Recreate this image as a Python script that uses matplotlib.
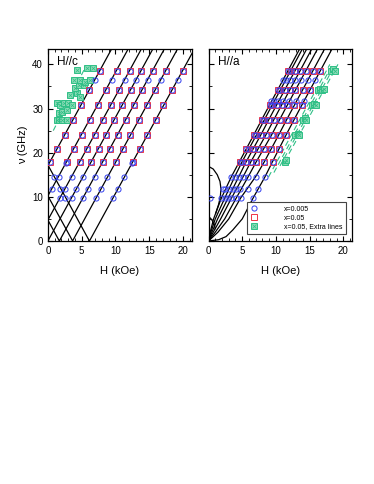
import numpy as np
import matplotlib
matplotlib.use("Agg")
import matplotlib.pyplot as plt
from matplotlib.lines import Line2D
from matplotlib.legend_handler import HandlerTuple
from matplotlib.ticker import MultipleLocator

plt.rcParams['font.family'] = ['Liberation Sans', 'DejaVu Sans']

# ---- H//c panel ----
# resonance lines  nu = slope * |H - h0|
slope_c = 2.8
h0_c = [-6.1, -3.65, -1.7, 0.0, 1.7, 3.65, 6.15]

# x=0.005 (blue circles), frequency -> fields
c_blue = {
    9.7: [1.75, 2.6, 3.5, 5.15, 7.1, 9.6],
    11.8: [0.6, 1.85, 2.5, 4.2, 5.9, 7.8, 10.3],
    14.5: [0.85, 1.6, 3.5, 5.2, 6.9, 8.8, 11.3],
    17.6: [2.7, 12.4],
    18.0: [0.35, 2.9, 4.75, 6.45, 8.15, 10.05, 12.55],
    20.9: [1.4, 3.9, 5.8, 7.5, 9.15, 11.05, 13.6],
    24.0: [2.5, 5.0, 6.9, 8.6, 10.3, 12.2, 14.7],
    27.5: [3.7, 6.25, 8.15, 9.85, 11.5, 13.45, 15.95],
    30.7: [4.9, 7.4, 9.3, 11.0, 12.7, 14.6, 17.1],
    34.2: [6.15, 8.65, 10.55, 12.25, 13.95, 15.85, 18.35],
    36.5: [7.0, 9.5, 11.4, 13.1, 14.8, 16.7, 19.2],
    38.6: [7.75, 10.25, 12.15, 13.85, 15.55, 17.45, 19.95],
}
# x=0.05 (red squares)
c_red = {
    18.0: [0.35, 2.9, 4.75, 6.45, 8.15, 10.05, 12.55],
    20.9: [1.4, 3.9, 5.8, 7.5, 9.15, 11.05, 13.6],
    24.0: [2.5, 5.0, 6.9, 8.6, 10.3, 12.2, 14.7],
    27.5: [3.7, 6.25, 8.15, 9.85, 11.5, 13.45, 15.95],
    30.7: [4.9, 7.4, 9.3, 11.0, 12.7, 14.6, 17.1],
    34.2: [6.15, 8.65, 10.55, 12.25, 13.95, 15.85, 18.35],
    38.6: [7.75, 10.25, 12.15, 13.85, 15.55, 17.45, 19.95],
}
# x=0.05 extra lines (green)
c_green_H = [1.3, 1.7, 2.1, 2.8, 1.6, 2.1, 2.8, 1.35, 1.85, 2.35, 3.05, 3.55,
             3.3, 4.3, 4.8, 4.05, 4.55, 5.3, 3.9, 4.8, 5.55, 6.3,
             4.3, 5.8, 6.7]
c_green_nu = [27.4, 27.4, 27.4, 27.4, 28.9, 29.3, 29.7, 31.2, 30.8, 31.2, 31.2, 30.8,
              33.1, 33.5, 32.7, 34.6, 35.4, 35.4, 36.5, 36.5, 36.1, 36.5,
              38.8, 39.2, 39.2]
c_dash_H = [0.8, 5.6]
c_dash_nu = [25.0, 39.5]

# ---- H//a panel ----
a_nodes = [0, 2, 5, 9.7, 14.6, 18, 24, 27.5, 30.8, 34.2, 38.6, 45]
a_curves = [
    [0, 0.25, 0.75, 1.9, 3.4, 4.6, 6.7, 7.9, 9.05, 10.25, 11.8, 14.05],
    [0, 0.35, 1.0, 2.4, 3.9, 5.0, 7.1, 8.3, 9.45, 10.65, 12.2, 14.45],
    [0, 0.5, 1.35, 2.9, 4.5, 5.6, 7.75, 8.95, 10.1, 11.3, 12.85, 15.1],
    [0, 0.7, 1.8, 3.4, 5.15, 6.3, 8.5, 9.7, 10.85, 12.05, 13.6, 15.85],
    [0, 1.0, 2.4, 4.1, 5.9, 7.1, 9.35, 10.55, 11.7, 12.9, 14.45, 16.7],
    [0, 1.4, 3.0, 4.75, 7.0, 8.3, 10.4, 11.6, 12.75, 13.95, 15.5, 17.75],
]
a_last_nu = [0, 0.3, 1.0, 2.5, 5.0, 9.7, 14.6, 18, 24, 27.5, 30.8, 34.2, 38.6, 45]
a_last_H = [0, 1.5, 2.6, 3.6, 5.0, 6.6, 8.4, 9.5, 11.5, 12.7, 13.85, 15.05, 16.6, 18.85]
arc_H = [0, 0.7, 1.3, 1.7, 1.85, 1.75, 1.5, 1.2, 1.07]
arc_nu = [16.9, 16.3, 15.0, 13.5, 11.8, 10.0, 8.3, 6.9, 6.3]
low_H = [0, 0.45, 0.85, 1.0]
low_nu = [5.6, 4.9, 3.8, 2.8]

a_blue = {
    9.7: [0.25, 1.9, 2.4, 2.9, 3.4, 4.1, 4.75, 6.6],
    11.8: [2.2, 2.5, 3.1, 3.6, 4.1, 4.7, 5.8, 7.4],
    14.6: [3.4, 3.9, 4.5, 5.15, 5.9, 7.0, 8.4],
    18.0: [4.6, 5.0, 5.6, 6.3, 7.1, 8.3, 9.5],
    20.9: [5.6, 6.0, 6.6, 7.3, 8.2, 9.3, 10.4],
    24.0: [6.7, 7.1, 7.75, 8.5, 9.35, 10.4, 11.5],
    27.5: [7.9, 8.3, 8.95, 9.7, 10.55, 11.6, 12.7],
    30.8: [9.05, 9.45, 10.1, 10.85, 11.7, 12.75, 13.85],
    31.6: [9.3, 9.7, 10.35, 11.1, 11.95, 13.0, 14.1],
    34.2: [10.25, 10.65, 11.3, 12.05, 12.9, 13.95, 15.05],
    36.5: [11.05, 11.45, 12.1, 12.85, 13.7, 14.75, 15.85],
    38.6: [11.8, 12.2, 12.85, 13.6, 14.45, 15.5, 16.6],
}
a_red = {
    18.0: [4.6, 5.0, 5.6, 6.3, 7.1, 8.3, 9.5],
    20.9: [5.6, 6.0, 6.6, 7.3, 8.2, 9.3, 10.4],
    24.0: [6.7, 7.1, 7.75, 8.5, 9.35, 10.4, 11.5],
    27.5: [7.9, 8.3, 8.95, 9.7, 10.55, 11.6, 12.7],
    30.8: [9.05, 9.45, 10.1, 10.85, 11.7, 12.75, 13.85],
    34.2: [10.25, 10.65, 11.3, 12.05, 12.9, 13.95, 15.05],
    38.6: [11.8, 12.2, 12.85, 13.6, 14.45, 15.5, 16.6],
}
a_green_H = [11.3, 11.5, 12.9, 13.2, 13.4, 14.0, 14.3, 14.5, 15.3, 15.6, 15.9,
             16.3, 16.6, 16.9, 17.2, 18.1, 18.4, 18.7]
a_green_nu = [18.0, 18.3, 24.0, 24.3, 24.0, 27.5, 27.8, 27.5, 30.8, 31.1, 30.8,
              34.2, 34.5, 34.2, 34.4, 38.6, 38.9, 38.6]
a_dash_H = [[8.9, 18.0], [9.7, 18.4], [10.6, 18.8], [11.3, 19.2]]
a_dash_nu = [[14.5, 40.0], [15.5, 40.0], [17.0, 40.0], [18.0, 40.0]]

blue = '#3340f0'
red = '#ee3344'
green = '#2fbf86'
green_fill = '#8fdcb8'

fig = plt.figure(figsize=(3.74, 4.84), dpi=100)
ax1 = fig.add_axes([0.128, 0.502, 0.385, 0.397])
ax2 = fig.add_axes([0.5575, 0.502, 0.384, 0.397])

circ = dict(linestyle='none', markersize=3.7, markeredgewidth=0.7)
sq = dict(linestyle='none', markersize=4.4, markeredgewidth=0.7)


def put_rows(ax, rows, marker, color, style, z):
    for nu, hs in rows.items():
        ax.plot(hs, [nu] * len(hs), marker=marker, markerfacecolor='none',
                markeredgecolor=color, zorder=z, **style)


def put_green(ax, hs, nus):
    ax.plot(hs, nus, marker='s', markerfacecolor=green_fill, markeredgecolor=green,
            zorder=3, linestyle='none', markersize=3.8, markeredgewidth=0.7)
    ax.plot(hs, nus, marker='x', color=green, linestyle='none', markersize=2.4,
            markeredgewidth=0.5, zorder=3)


# left panel
H = np.linspace(0, 22, 500)
for h0 in h0_c:
    ax1.plot(H, slope_c * np.abs(H - h0), color='black', lw=0.9, zorder=2)
ax1.plot(c_dash_H, c_dash_nu, color=green, lw=0.8, ls=(0, (5, 3)), zorder=2)
put_green(ax1, c_green_H, c_green_nu)
put_rows(ax1, c_red, 's', red, sq, 4)
put_rows(ax1, c_blue, 'o', blue, circ, 5)

# right panel
for c in a_curves:
    ax2.plot(c, a_nodes, color='black', lw=0.9, zorder=2)
ax2.plot(a_last_H, a_last_nu, color='black', lw=0.9, zorder=2)
ax2.plot(arc_H, arc_nu, color='black', lw=0.9, zorder=2)
ax2.plot(low_H, low_nu, color='black', lw=0.9, zorder=2)
for hs, nus in zip(a_dash_H, a_dash_nu):
    ax2.plot(hs, nus, color=green, lw=0.8, ls=(0, (5, 3)), zorder=2)
put_green(ax2, a_green_H, a_green_nu)
put_rows(ax2, a_red, 's', red, sq, 4)
put_rows(ax2, a_blue, 'o', blue, circ, 5)

for ax in (ax1, ax2):
    ax.set_xlim(0, 21.3)
    ax.set_ylim(0, 43.5)
    ax.xaxis.set_major_locator(MultipleLocator(5))
    ax.xaxis.set_minor_locator(MultipleLocator(1))
    ax.yaxis.set_major_locator(MultipleLocator(10))
    ax.yaxis.set_minor_locator(MultipleLocator(5))
    ax.tick_params(which='both', direction='in', top=True, right=True, labelsize=7)
    ax.tick_params(which='major', length=3.5, width=0.8)
    ax.tick_params(which='minor', length=2, width=0.6)
    for s in ax.spines.values():
        s.set_linewidth(0.9)
    ax.set_xlabel('H (kOe)', fontsize=8, labelpad=7)

ax1.set_ylabel('ν (GHz)', fontsize=8, labelpad=3)
ax2.tick_params(labelleft=False)
ax1.text(0.06, 0.965, 'H//c', transform=ax1.transAxes, va='top', fontsize=8.5)
ax2.text(0.066, 0.965, 'H//a', transform=ax2.transAxes, va='top', fontsize=8.5)

h_blue = Line2D([], [], marker='o', color=blue, mfc='none', **circ)
h_red = Line2D([], [], marker='s', color=red, mfc='none', **sq)
h_g1 = Line2D([], [], marker='s', mfc=green_fill, mec=green, linestyle='none',
              markersize=3.8, markeredgewidth=0.7)
h_g2 = Line2D([], [], marker='x', color=green, linestyle='none', markersize=2.4,
              markeredgewidth=0.5)
leg = ax2.legend([h_blue, h_red, (h_g1, h_g2)],
                 ['x=0.005', 'x=0.05', 'x=0.05, Extra lines'],
                 handler_map={tuple: HandlerTuple(ndivide=1, pad=0)},
                 loc='lower right', bbox_to_anchor=(0.98, 0.02), fontsize=5,
                 handlelength=1.0, handletextpad=3.8, borderpad=0.5,
                 labelspacing=0.25, fancybox=False, framealpha=1,
                 edgecolor='#444444')
leg.get_frame().set_linewidth(0.8)

fig.savefig('out.png', dpi=100)
